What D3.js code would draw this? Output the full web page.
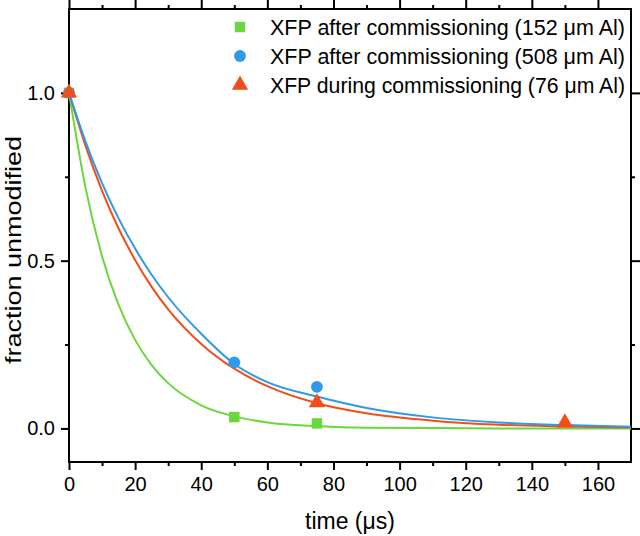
<!DOCTYPE html>
<html><head><meta charset="utf-8">
<script src="https://cdn.jsdelivr.net/npm/d3@7"></script>
<style>body{margin:0;background:#fff}svg{display:block}text{font-family:"Liberation Sans",Arial,sans-serif;fill:#000}</style>
</head><body><svg id="c" width="640" height="536"></svg>
<script>
// Measured points
const seriesNames = ["XFP after commissioning (152 \u03BCm Al)","XFP after commissioning (508 \u03BCm Al)","XFP during commissioning (76 \u03BCm Al)"];
const seriesColors = ["#6ad83c","#2e9ae8","#f44d1a"];
const seriesShapes = ["square","circle","triangle"];
const greenT = [0, 50, 75];
const greenV = [1.0, 0.034, 0.015];
const blueT = [0, 50, 75];
const blueV = [1.0, 0.197, 0.124];
const redT = [0, 75, 150];
const redV = [1.0, 0.077, 0.017];
// Fit curves
const fitT = [0, 5, 10, 15, 20, 25, 30, 40, 50, 60, 75, 90, 110, 130, 150, 170];
const greenFit = [1.0, 0.717, 0.513, 0.368, 0.264, 0.189, 0.135, 0.069, 0.036, 0.018, 0.007, 0.002, 0.001, 0.0, 0.0, 0.0];
const blueFit = [1.0, 0.855, 0.731, 0.626, 0.536, 0.458, 0.391, 0.282, 0.192, 0.138, 0.095, 0.061, 0.033, 0.018, 0.010, 0.005];
const redFit = [1.0, 0.842, 0.708, 0.596, 0.502, 0.422, 0.355, 0.252, 0.178, 0.126, 0.075, 0.045, 0.023, 0.011, 0.006, 0.003];
const xTicks = [0, 20, 40, 60, 80, 100, 120, 140, 160];
const xMinor = [10, 30, 50, 70, 90, 110, 130, 150];
const yTicks = [0.0, 0.5, 1.0];
const yMinor = [0.25, 0.75];

const svg = d3.select("#c");
const L = 69, R = 631, T = 9, B = 462;
const x = d3.scaleLinear().domain([0, 170]).range([L, R]);
const y = d3.scaleLinear().domain([-0.1, 1.25]).range([B, T]);

svg.append("rect").attr("x", L).attr("y", T).attr("width", R - L).attr("height", B - T)
  .attr("fill", "none").attr("stroke", "#000").attr("stroke-width", 2);

function axis(gen, tr, ticks, size, labels) {
  const a = gen.tickValues(ticks).tickSize(size).tickSizeOuter(0);
  if (!labels) a.tickFormat(""); else a.tickFormat(labels);
  const s = svg.append("g").attr("transform", tr).call(a);
  s.select(".domain").remove();
  s.selectAll("line").attr("stroke", "#000").attr("stroke-width", 2);
  s.selectAll("text").style("font-size", "20px").style("font-family", '"Liberation Sans",Arial,sans-serif');
  return s;
}
axis(d3.axisBottom(x), `translate(0,${B})`, xTicks, 8, d3.format("d")).selectAll("text").attr("dy", "0.9em");
axis(d3.axisBottom(x), `translate(0,${B})`, xMinor, 4, null);
axis(d3.axisTop(x), `translate(0,${T})`, xTicks, 9, null);
axis(d3.axisTop(x), `translate(0,${T})`, xMinor, 4, null);
axis(d3.axisLeft(y), `translate(${L},0)`, yTicks, 8, d3.format(".1f")).selectAll("text").attr("dx", "-0.15em");
axis(d3.axisLeft(y), `translate(${L},0)`, yMinor, 4, null);
axis(d3.axisRight(y), `translate(${R},0)`, yTicks, 9, null);
axis(d3.axisRight(y), `translate(${R},0)`, yMinor, 4, null);

// axis titles
svg.append("text").attr("x", 350).attr("y", 529).attr("text-anchor", "middle")
  .style("font-size", "23px").text("time (\u03BCs)");
svg.append("text").attr("transform", `translate(21,250) rotate(-90)`).attr("text-anchor", "middle")
  .attr("textLength", 228).attr("lengthAdjust", "spacingAndGlyphs")
  .style("font-size", "22px").text("fraction unmodified");

svg.append("clipPath").attr("id", "clip").append("rect").attr("x", L).attr("y", T).attr("width", R - L).attr("height", B - T);

const line = d3.line().x(d => x(d[0])).y(d => y(d[1])).curve(d3.curveMonotoneX);
const fits = [greenFit, blueFit, redFit];
const plot = svg.append("g").attr("clip-path", "url(#clip)");
[0, 2, 1].forEach(i => {
  plot.append("path").datum(fitT.map((t, j) => [t, fits[i][j]]))
    .attr("d", line).attr("fill", "none").attr("stroke", seriesColors[i]).attr("stroke-width", 2);
});

const sym = {square: d3.symbolSquare, circle: d3.symbolCircle, triangle: d3.symbolTriangle};
const sizes = {square: 110, circle: 110, triangle: 115};
const pts = [[greenT, greenV], [blueT, blueV], [redT, redV]];
pts.forEach((p, i) => {
  svg.append("g").selectAll("path").data(p[0].map((t, j) => [t, p[1][j]])).join("path")
    .attr("transform", d => `translate(${x(d[0])},${y(d[1])})`)
    .attr("d", d3.symbol().type(sym[seriesShapes[i]]).size(sizes[seriesShapes[i]]))
    .attr("fill", seriesColors[i]);
});

// legend
const legY = [27, 56, 85];
seriesNames.forEach((n, i) => {
  svg.append("path").attr("transform", `translate(240,${legY[i]})`)
    .attr("d", d3.symbol().type(sym[seriesShapes[i]]).size(sizes[seriesShapes[i]]))
    .attr("fill", seriesColors[i]);
  svg.append("text").attr("x", 270).attr("y", legY[i]).attr("dy", "0.36em")
    .attr("textLength", 355).attr("lengthAdjust", "spacingAndGlyphs")
    .style("font-size", "22px").text(n);
});
</script></body></html>
